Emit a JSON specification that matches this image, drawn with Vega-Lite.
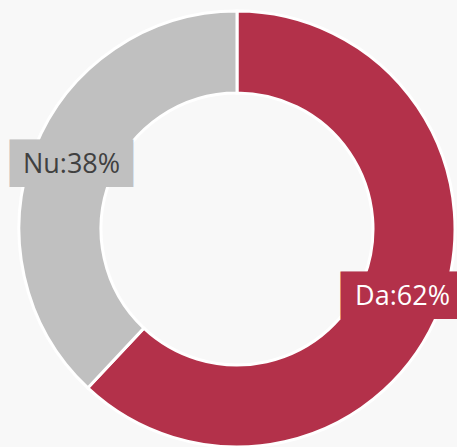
{
  "$schema": "https://vega.github.io/schema/vega-lite/v6.json",
  "width": 436,
  "height": 436,
  "autosize": {"type": "none"},
  "padding": {"left": 19, "top": 11, "right": 2, "bottom": 0},
  "background": "#f8f8f8",
  "config": {"view": {"stroke": null}},
  "data": {"values": [
    {"category": "Da", "value": 62, "label": "Da:62%"},
    {"category": "Nu", "value": 38, "label": "Nu:38%"}
  ]},
  "encoding": {
    "theta": {"field": "value", "type": "quantitative", "stack": true},
    "order": {"field": "category", "sort": "ascending"}
  },
  "layer": [
    {
      "mark": {"type": "arc", "outerRadius": 218, "innerRadius": 136, "stroke": "white", "strokeWidth": 3},
      "encoding": {
        "color": {"field": "category", "type": "nominal", "legend": null,
          "scale": {"domain": ["Da", "Nu"], "range": ["#b3314a", "#c0c0c0"]}}
      }
    },
    {
      "mark": {"type": "text", "font": "DejaVu Sans", "fontSize": 40, "align": "center", "baseline": "middle", "text": "████", "dy": 2},
      "encoding": {
        "radius": {"value": 178},
        "color": {"field": "category", "type": "nominal", "legend": null}
      }
    },
    {
      "mark": {"type": "text", "font": "Open Sans", "fontSize": 27, "align": "center", "baseline": "middle", "dy": 2},
      "encoding": {
        "radius": {"value": 178},
        "text": {"field": "label"},
        "color": {"condition": {"test": "datum.category === 'Da'", "value": "#ffffff"}, "value": "#404040"}
      }
    }
  ]
}
